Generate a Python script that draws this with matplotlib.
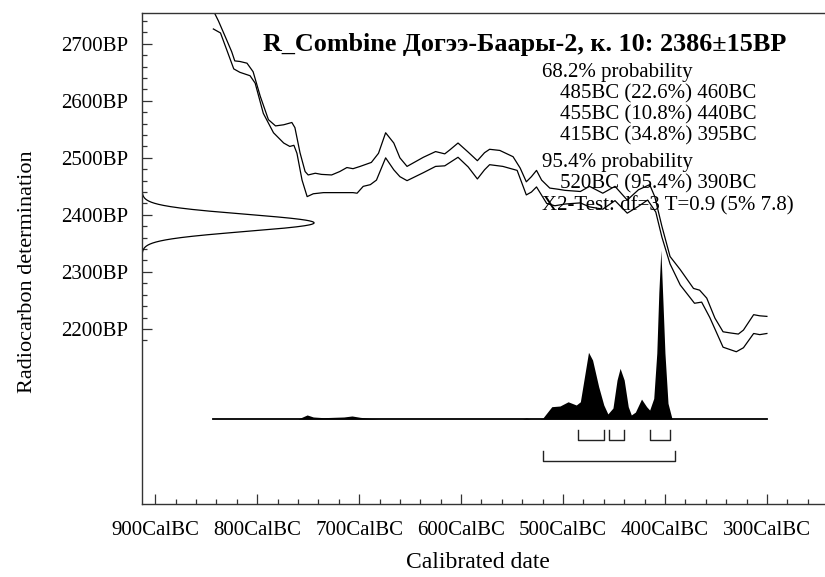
import numpy as np
import matplotlib.pyplot as plt
from matplotlib.ticker import FixedLocator, MultipleLocator

plt.rcParams['font.family'] = ['Liberation Serif', 'DejaVu Serif']

# calibration curve envelope (cal BC, radiocarbon BP)
upper_bc = [843, 838, 830, 825, 822, 817, 810, 804, 797, 789, 782, 774, 766, 763, 758,
            753, 750, 743, 737, 727, 719, 712, 706, 699, 688, 681, 674, 666, 660, 653,
            645, 637, 625, 616, 611, 603, 593, 584, 577, 572, 562, 549, 542, 536, 531,
            526, 521, 513, 505, 498, 483, 474, 461, 449, 437, 426, 415, 410, 403, 395,
            385, 372, 366, 359, 351, 343, 336, 328, 323, 313, 307, 300]
upper_bp = [2758, 2740, 2707, 2686, 2670, 2669, 2666, 2651, 2608, 2567, 2556, 2558, 2562, 2553, 2509,
            2476, 2470, 2473, 2471, 2470, 2476, 2483, 2481, 2485, 2492, 2508, 2544, 2526, 2500, 2485,
            2493, 2501, 2511, 2507, 2514, 2526, 2510, 2495, 2509, 2515, 2513, 2502, 2482, 2458, 2467,
            2478, 2461, 2447, 2445, 2443, 2441, 2450, 2438, 2450, 2426, 2444, 2453, 2432, 2380, 2327,
            2304, 2271, 2268, 2254, 2219, 2195, 2193, 2191, 2198, 2225, 2223, 2222]

lower_bc = [843, 836, 830, 823, 817, 807, 802, 794, 784, 774, 768, 764, 761, 756, 751,
            745, 735, 706, 702, 696, 689, 683, 674, 666, 660, 653, 637, 625, 616, 603,
            593, 584, 577, 572, 559, 545, 536, 531, 526, 516, 508, 498, 483, 474, 461,
            449, 437, 426, 417, 409, 403, 395, 385, 371, 364, 356, 343, 330, 323, 313,
            307, 300]
lower_bp = [2726, 2719, 2690, 2656, 2650, 2644, 2631, 2578, 2544, 2526, 2520, 2522, 2508, 2461, 2432,
            2437, 2439, 2439, 2438, 2450, 2453, 2461, 2500, 2479, 2467, 2460, 2474, 2485, 2486, 2501,
            2484, 2463, 2479, 2488, 2485, 2478, 2435, 2440, 2449, 2420, 2416, 2419, 2421, 2414, 2410,
            2425, 2403, 2415, 2426, 2405, 2361, 2314, 2277, 2245, 2247, 2220, 2168, 2160, 2167, 2192,
            2190, 2192]

# posterior distribution (relative to its peak)
post_bc = [843, 760, 751, 745, 735, 715, 707, 699, 690, 679, 540, 536, 532, 523, 520,
           511, 503, 495, 487, 483, 475, 471, 465, 460, 456, 451, 447, 444, 440, 436,
           433, 429, 423, 418, 415, 411, 408, 406, 404, 402, 400, 397, 393, 300]
post_p = [0, 0, 0.024, 0.012, 0.008, 0.012, 0.018, 0.01, 0.004, 0, 0, 0.006, 0, 0, 0.004,
          0.073, 0.077, 0.102, 0.083, 0.102, 0.395, 0.349, 0.191, 0.083, 0.03, 0.065, 0.231, 0.3, 0.231, 0.073,
          0.024, 0.041, 0.118, 0.073, 0.053, 0.122, 0.39, 0.75, 1.0, 0.7, 0.39, 0.093, 0, 0]

# radiocarbon measurement
bp_mean = 2386
bp_sd = 15

ranges_68 = [(485, 460), (455, 440), (415, 395)]
ranges_95 = [(520, 390)]

x_ticks = [900, 800, 700, 600, 500, 400, 300]
y_ticks = [2200, 2300, 2400, 2500, 2600, 2700]

title = "R_Combine Догээ-Баары-2, к. 10: 2386±15BP"
info_lines = [
    ("68.2% probability", 0),
    ("485BC (22.6%) 460BC", 1),
    ("455BC (10.8%) 440BC", 1),
    ("415BC (34.8%) 395BC", 1),
    ("95.4% probability", 0),
    ("520BC (95.4%) 390BC", 1),
    ("X2-Test: df=3 T=0.9 (5% 7.8)", 0),
]

W, H = 825, 577
fig = plt.figure(figsize=(W / 100, H / 100), dpi=100)
ax = fig.add_axes([142 / W, 1 - 504 / H, 1 - 142 / W, (504 - 13) / H])

ax.set_xlim(913, 243)
ax.set_ylim(1893, 2754)

# calibration curve
ax.plot(upper_bc, upper_bp, color='black', lw=0.9, solid_joinstyle='round')
ax.plot(lower_bc, lower_bp, color='black', lw=0.9, solid_joinstyle='round')

# radiocarbon date on the y axis
ytr = ax.get_yaxis_transform()
bp = np.linspace(bp_mean - 5 * bp_sd, bp_mean + 5 * bp_sd, 400)
dens = np.exp(-0.5 * ((bp - bp_mean) / bp_sd) ** 2)
ax.plot(dens * 0.252, bp, color='black', lw=0.9, transform=ytr)

# posterior on the x axis
xtr = ax.get_xaxis_transform()
base = 0.1731
peak_h = 0.344
ax.fill_between(post_bc, base, base + np.array(post_p) * peak_h,
                color='black', lw=0, transform=xtr)
ax.plot([post_bc[0], post_bc[-1]], [base, base], color='black', lw=1.3, transform=xtr)

# range brackets
for lo, hi in ranges_68:
    ax.plot([lo, lo, hi, hi], [0.1507, 0.1303, 0.1303, 0.1507],
            color='#222222', lw=1.0, transform=xtr)
for lo, hi in ranges_95:
    ax.plot([lo, lo, hi, hi], [0.1079, 0.0876, 0.0876, 0.1079],
            color='#222222', lw=1.0, transform=xtr)

# axes styling
ax.spines['right'].set_visible(False)
for s in ['left', 'top', 'bottom']:
    ax.spines[s].set_color('#333333')
    ax.spines[s].set_linewidth(1.0)

ax.xaxis.set_major_locator(FixedLocator(x_ticks))
ax.xaxis.set_minor_locator(MultipleLocator(20))
ax.set_xticklabels([f"{v}CalBC" for v in x_ticks])
ax.yaxis.set_major_locator(FixedLocator(y_ticks))
ax.yaxis.set_minor_locator(FixedLocator(list(range(2180, 2741, 20))))
ax.set_yticklabels([f"{v}BP" for v in y_ticks])

ax.tick_params(which='both', direction='in', top=False, right=False, color='#333333', width=0.9)
ax.tick_params(axis='y', which='major', length=7.5, labelsize=15, pad=10)
ax.tick_params(axis='y', which='minor', length=3.8)
ax.tick_params(axis='x', which='major', length=7.2, labelsize=15, pad=12)
ax.tick_params(axis='x', which='minor', length=3.8)

fig.text(28 / W, 1 - 272 / H, "Radiocarbon determination", rotation=90,
         ha='center', va='center', fontsize=16)
fig.text(478 / W, 1 - 563 / H, "Calibrated date", ha='center', va='center', fontsize=17)

fig.text(263 / W, 1 - 44 / H, title, ha='left', va='center', fontsize=18.8, fontweight='bold')

line_y = [73, 94, 115, 136, 162, 184, 206]
for (txt, indent), yy in zip(info_lines, line_y):
    xx = 542 if indent == 0 else 560
    fig.text(xx / W, 1 - yy / H, txt, ha='left', va='center', fontsize=15)

fig.savefig('out.png', dpi=100)
